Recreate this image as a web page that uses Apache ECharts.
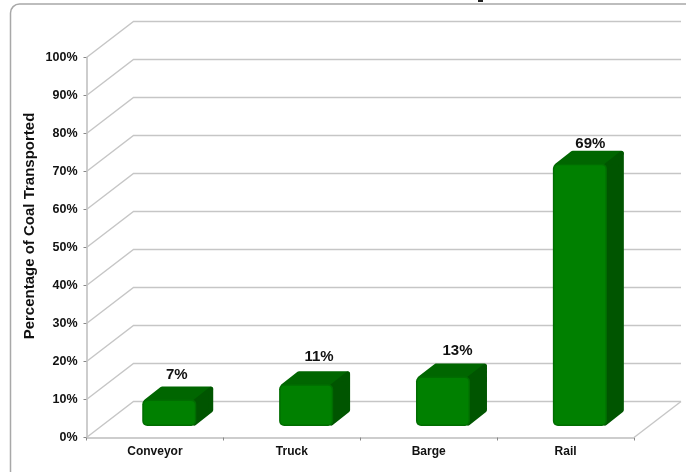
<!DOCTYPE html>
<html>
<head>
<meta charset="utf-8">
<style>html,body{margin:0;padding:0;background:#fff;overflow:hidden}#c{width:686px;height:472px}</style>
<script src="https://cdn.jsdelivr.net/npm/echarts@6/dist/echarts.min.js"></script>
</head>
<body>
<div id="c"></div>
<script>
const categories = ['Conveyor', 'Truck', 'Barge', 'Rail'];
const percentages = [7, 11, 13, 69];
const gridValues = [0, 10, 20, 30, 40, 50, 60, 70, 80, 90, 100];
const yAxisTitle = 'Percentage of Coal Transported';

const FONT = '"Liberation Sans", Arial, sans-serif';
const WALL_DX = 47, WALL_DY = -36;
const GRID_COLOR = '#c6c6c6';
const labelLift = [12, 14, 13, 7];
const labelShift = [-1, 4.5, 6, 2];

const chart = echarts.init(document.getElementById('c'), null, { renderer: 'canvas' });

function renderWall(params, api) {
  const cs = params.coordSys;
  const v = api.value(0);
  const y = api.coord([0, v])[1];
  const left = cs.x, right = cs.x + cs.width;
  const style = { stroke: GRID_COLOR, lineWidth: 1.4, fill: null };
  const children = [
    { type: 'polyline', shape: { points: [[left, y], [left + WALL_DX, y + WALL_DY], [right + WALL_DX, y + WALL_DY]] }, style }
  ];
  if (v === 0) {
    children.push({ type: 'line', shape: { x1: right, y1: y, x2: right + WALL_DX, y2: y + WALL_DY }, style });
  }
  return { type: 'group', children };
}

function renderBar(params, api) {
  const i = api.value(0), v = api.value(1);
  const c = api.coord([i, v]), base = api.coord([i, 0]);
  const band = api.size([1, 0])[0];
  const w = band * 0.395;
  const fdx = WALL_DX * 0.305, fdy = WALL_DY * 0.32;
  const ddx = WALL_DX * 0.36, ddy = WALL_DY * 0.36;
  const x0 = c[0] - w / 2 + fdx, x1 = x0 + w;
  const yt = c[1] + fdy, yb = base[1] + fdy;
  const topBack = yt + ddy;
  const roundStroke = (col) => ({ fill: col, stroke: col, lineWidth: 5, lineJoin: 'round' });
  return {
    type: 'group',
    children: [
      { type: 'polygon', shape: { points: [[x0 + 4, yt + 2], [x0 + ddx + 3, topBack + 2.5], [x1 + ddx - 2.5, topBack + 2.5], [x1 - 2, yt + 2]] }, style: roundStroke('#006600') },
      { type: 'polygon', shape: { points: [[x1 - 2, yt + 3], [x1 + ddx - 2.5, topBack + 3], [x1 + ddx - 2.5, yb + ddy - 3], [x1 - 2, yb - 3]] }, style: roundStroke('#005500') },
      { type: 'rect', shape: { x: x0, y: yt, width: w, height: yb - yt, r: 5 }, style: { fill: '#006d00' } },
      { type: 'rect', shape: { x: x0 + 1.5, y: yt + 1.5, width: w - 3, height: yb - yt - 3, r: 4 }, style: { fill: '#008000' } },
      {
        type: 'text',
        style: {
          x: x0 + w / 2 + ddx / 2 + labelShift[i], y: topBack - labelLift[i],
          text: v + '%', align: 'center', verticalAlign: 'middle',
          font: 'bold 15px ' + FONT, fill: '#111'
        }
      }
    ]
  };
}

chart.setOption({
  animation: false,
  backgroundColor: '#fff',
  grid: { left: 86.5, right: 52, top: 57.5, bottom: 34.5, containLabel: false },
  graphic: [
    { type: 'rect', silent: true, z: -1, shape: { x: 10.5, y: 4, width: 760, height: 476, r: 9 }, style: { fill: '#fff', stroke: '#a8a8a8', lineWidth: 1.5 } },
    { type: 'rect', silent: true, z: -1, shape: { x: 478, y: 0, width: 5, height: 2 }, style: { fill: '#222' } },
    { type: 'text', silent: true, z: 5, x: 30, y: 226, rotation: Math.PI / 2,
      style: { text: yAxisTitle, x: 0, y: 0, align: 'center', verticalAlign: 'middle', font: 'bold 15px ' + FONT, fill: '#111' } }
  ],
  xAxis: {
    type: 'category',
    data: categories,
    axisLine: { lineStyle: { color: '#bdbdbd', width: 1.5 } },
    axisTick: { show: true, length: 3, alignWithLabel: false, lineStyle: { color: '#888' } },
    axisLabel: { color: '#111', fontFamily: FONT, fontWeight: 'bold', fontSize: 12, margin: 8 },
    splitLine: { show: false }
  },
  yAxis: {
    type: 'value', min: 0, max: 100, interval: 10,
    axisLine: { show: true, lineStyle: { color: '#bdbdbd', width: 1.5 } },
    axisTick: { show: true, length: 3, lineStyle: { color: '#888' } },
    axisLabel: { color: '#111', fontFamily: FONT, fontWeight: 'bold', fontSize: 12.5, margin: 9, formatter: '{value}%' },
    splitLine: { show: false }
  },
  series: [
    { type: 'custom', name: 'walls', silent: true, clip: false, z: 1, coordinateSystem: 'cartesian2d', data: gridValues.map(v => [v]), encode: { y: 0 }, renderItem: renderWall },
    { type: 'custom', name: 'Percentage', silent: true, clip: false, z: 3, coordinateSystem: 'cartesian2d', data: percentages.map((v, i) => [i, v]), encode: { x: 0, y: 1 }, renderItem: renderBar }
  ]
});
</script>
</body>
</html>
